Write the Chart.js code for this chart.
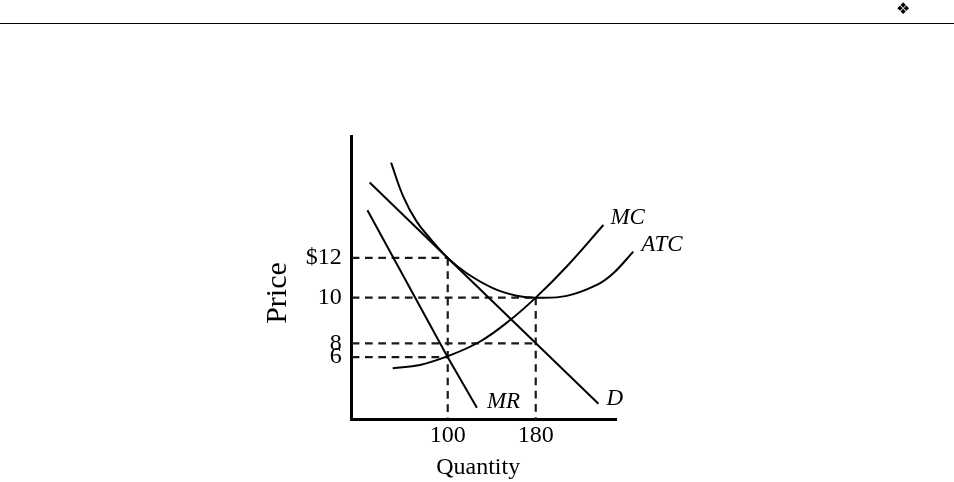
<!DOCTYPE html>
<html>
<head>
<meta charset="utf-8">
<script src="https://cdn.jsdelivr.net/npm/chart.js@4.4.1/dist/chart.umd.min.js"></script>
<style>
  html, body { margin: 0; padding: 0; background: #fff; }
  #wrap { position: relative; width: 954px; height: 482px; overflow: hidden; }
  #chart { position: absolute; left: 0; top: 0; }
  .rule { position: absolute; left: 0; top: 22.5px; width: 954px; height: 0; border-top: 1.5px solid #000; }
  .mark { position: absolute; left: 896px; top: -1px; font: 16px "DejaVu Sans"; color: #000; }
</style>
</head>
<body>
<div id="wrap">
  <canvas id="chart" width="954" height="482"></canvas>
  <div class="rule"></div>
  <div class="mark">❖</div>
</div>
<script>
// Eksenler (şekil 10'un altında ölçekli çizilmemiş)
const qtyTicks = [100, 180];
const priceLabels = ['$12', '10', '8', '6'];
const pricePos = [12, 10, 7.7, 7.0];
const guideQty = [100, 180, 180, 100]; // her fiyat çizgisinin bittiği miktar

const qtyMin = 12.7, qtyMax = 253.6;
const priceMin = 3.87, priceMax = 18.11;

// Eğriler
const dQty = [29, 237];
const dPrice = [15.8, 4.65];

const mrQty = [27, 100, 126.5];
const mrPrice = [14.4, 7.0, 4.45];

const atcQty = [48.5, 59.6, 71.8, 83.9, 100, 117.3, 141.5, 162.7, 180, 208.2, 235.5, 250.5, 268.7];
const atcPrice = [16.8, 15.09, 13.83, 12.99, 12.0, 11.23, 10.47, 10.10, 10.0, 10.09, 10.64, 11.23, 12.32];

const mcQty = [50, 74.8, 100, 129.4, 156.7, 180, 208.2, 241.5];
const mcPrice = [6.44, 6.61, 7.05, 7.79, 8.87, 10.0, 11.57, 13.66];

// etiketlerin eğri ucundan kayması (piksel)
const labelOffset = { MC: [7, -1], ATC: [8, -1], MR: [10, 0], D: [8, 1] };

const pts = (xs, ys) => xs.map((x, i) => ({ x, y: ys[i] }));

function curve(label, xs, ys, smooth) {
  return {
    label,
    data: pts(xs, ys),
    borderColor: '#000',
    borderWidth: 2,
    pointRadius: 0,
    fill: false,
    tension: smooth ? 0.4 : 0,
    clip: false
  };
}

function guide(data) {
  return {
    label: '',
    data,
    borderColor: '#1a1a1a',
    borderWidth: 2.2,
    borderDash: [7.7, 5.6],
    pointRadius: 0,
    fill: false,
    tension: 0
  };
}

const datasets = [
  curve('MC', mcQty, mcPrice, true),
  curve('ATC', atcQty, atcPrice, true),
  curve('MR', mrQty, mrPrice, false),
  curve('D', dQty, dPrice, false)
];

// kesikli çizgiler
pricePos.forEach((p, i) => {
  datasets.push(guide([{ x: qtyMin, y: p }, { x: guideQty[i], y: p }]));
});
qtyTicks.forEach(q => {
  const top = Math.max(...pricePos.filter((p, i) => guideQty[i] === q));
  datasets.push(guide([{ x: q, y: top }, { x: q, y: priceMin }]));
});

// eğri adlarını uçlarına yaz
const curveLabels = {
  id: 'curveLabels',
  afterDatasetsDraw(chart) {
    const { ctx, scales: { x, y } } = chart;
    ctx.save();
    ctx.font = 'italic 23px "Liberation Serif"';
    ctx.fillStyle = '#000';
    ctx.textAlign = 'left';
    ctx.textBaseline = 'alphabetic';
    chart.data.datasets.forEach(ds => {
      const off = labelOffset[ds.label];
      if (!off) return;
      const last = ds.data[ds.data.length - 1];
      ctx.fillText(ds.label, x.getPixelForValue(last.x) + off[0], y.getPixelForValue(last.y) + off[1]);
    });
    ctx.restore();
  }
};

const serif = 'Liberation Serif';

new Chart(document.getElementById('chart'), {
  type: 'line',
  data: { datasets },
  plugins: [curveLabels],
  options: {
    responsive: false,
    animation: false,
    events: [],
    layout: { padding: { left: 260.2, right: 337.3, top: 136.7, bottom: 0 } },
    plugins: { legend: { display: false }, tooltip: { enabled: false } },
    scales: {
      x: {
        type: 'linear',
        min: qtyMin,
        max: qtyMax,
        grid: { display: false, drawTicks: false },
        border: { display: true, color: '#000', width: 3 },
        afterBuildTicks: s => { s.ticks = qtyTicks.map(v => ({ value: v })); },
        afterFit: s => { s.height = 62.7; },
        ticks: {
          autoSkip: false,
          maxRotation: 0,
          padding: 2,
          color: '#000',
          font: { family: serif, size: 24 },
          callback: v => String(v)
        },
        title: {
          display: true,
          text: 'Quantity\u2002', // başlık eksenin biraz solunda
          color: '#000',
          padding: 0,
          font: { family: serif, size: 24 }
        }
      },
      y: {
        type: 'linear',
        min: priceMin,
        max: priceMax,
        grid: { display: false, drawTicks: false },
        border: { display: true, color: '#000', width: 3 },
        afterBuildTicks: s => { s.ticks = pricePos.map(v => ({ value: v })); },
        afterFit: s => { s.width = 91.5; },
        ticks: {
          autoSkip: false,
          padding: 10,
          color: '#000',
          font: { family: serif, size: 24 },
          callback: (v, i) => priceLabels[i]
        },
        title: {
          display: true,
          text: 'Price\u2003', // başlık ortadan biraz aşağıda
          color: '#000',
          padding: 0,
          font: { family: serif, size: 30 }
        }
      }
    }
  }
});
</script>
</body>
</html>
